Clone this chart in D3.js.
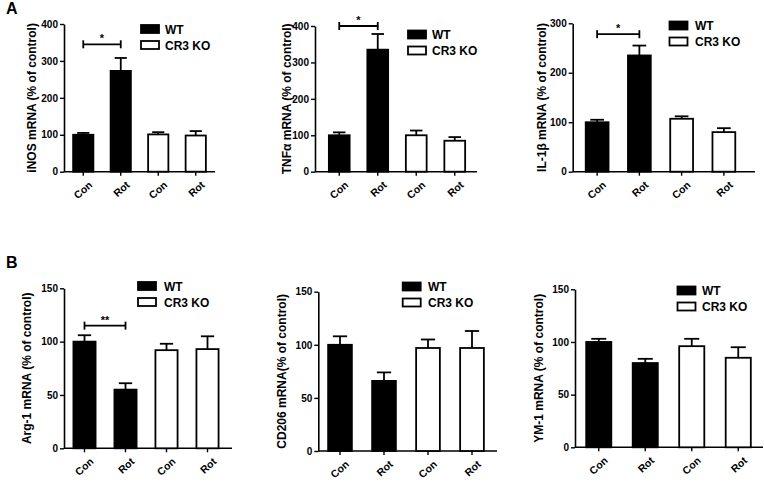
<!DOCTYPE html>
<html><head><meta charset="utf-8">
<script src="https://cdn.jsdelivr.net/npm/d3@7"></script>
<style>
body{margin:0;background:#fff;}
svg{display:block;font-family:"Liberation Sans",Arial,sans-serif;font-weight:bold;}
</style></head>
<body><svg id="c" width="764" height="484"></svg>
<script>
// ---- data ----
const categories = ["Con","Rot","Con","Rot"];
const groups = ["WT","WT","CR3 KO","CR3 KO"];
const legendLabels = ["WT","CR3 KO"];

const inosMean = [100, 273, 101, 98];
const inosErr  = [5, 35, 6, 12];
const tnfMean  = [100, 335, 100, 85];
const tnfErr   = [8, 43, 13, 10];
const il1bMean = [100, 235, 107, 80];
const il1bErr  = [5, 20, 5, 8];
const arg1Mean = [100, 55, 92, 93];
const arg1Err  = [6, 6, 6, 12];
const cd206Mean= [100, 66, 97, 97];
const cd206Err = [8, 8, 8, 16];
const ym1Mean  = [100, 80, 96, 85];
const ym1Err   = [3, 4, 7, 10];

const ticks400 = [0,100,200,300,400];
const ticks300 = [0,100,200,300];
const ticks150 = [0,50,100,150];

const yLabels = ["iNOS mRNA (% of control)","TNF\u03b1 mRNA (% of control)","IL-1\u03b2 mRNA (% of control)",
                 "Arg-1 mRNA (% of control)","CD206 mRNA(% of control)","YM-1 mRNA (% of control)"];
// significance brackets: [from index, to index, value, label]
const sigA1 = [0,1,345,"*"];
const sigA2 = [0,1,400,"*"];
const sigA3 = [0,1,278,"*"];
const sigB1 = [0,1,115,"**"];

// ---- layout (positions only) ----
const panels = [
 {mean:inosMean, err:inosErr, ticks:ticks400, label:yLabels[0], sig:sigA1,
  ax:64, top:24, bot:171.7, band:[64.5,214.5], axEnd:215, labX:32, leg:[140,24,165]},
 {mean:tnfMean, err:tnfErr, ticks:ticks400, label:yLabels[1], sig:sigA2,
  ax:315, top:26, bot:171.7, band:[320,474], axEnd:477, labX:287, leg:[407,29.5,432]},
 {mean:il1bMean, err:il1bErr, ticks:ticks300, label:yLabels[2], sig:sigA3,
  ax:572.7, top:23.3, bot:171.7, band:[576,745], axEnd:755, labX:542, leg:[668.5,20.5,695]},
 {mean:arg1Mean, err:arg1Err, ticks:ticks150, label:yLabels[3], sig:sigB1,
  ax:64, top:288.3, bot:448.3, band:[64,228], axEnd:232, labX:27, leg:[137,281,164]},
 {mean:cd206Mean, err:cd206Err, ticks:ticks150, label:yLabels[4], sig:null,
  ax:318.3, top:291.7, bot:451, band:[318,494], axEnd:497, labX:282, leg:[401.7,281.5,428]},
 {mean:ym1Mean, err:ym1Err, ticks:ticks150, label:yLabels[5], sig:null,
  ax:575, top:289.3, bot:447.3, band:[575.5,761.5], axEnd:763, labX:539, leg:[676.5,285.5,702]}
];

const svg = d3.select("#c");
const color = d3.scaleOrdinal().domain(legendLabels).range(["#000","#fff"]);

panels.forEach(p => {
  const g = svg.append("g");
  const maxV = p.ticks[p.ticks.length-1];
  const y = d3.scaleLinear().domain([0,maxV]).range([p.bot,p.top]);
  const x = d3.scaleBand().domain(d3.range(categories.length)).range(p.band).padding(0);
  const bw = x.bandwidth()*0.54;
  const cx = i => x(i) + x.bandwidth()/2;

  // y axis
  const ya = g.append("g").attr("transform",`translate(${p.ax},0)`)
    .call(d3.axisLeft(y).tickValues(p.ticks).tickSize(4).tickSizeOuter(0).tickPadding(2));
  ya.select(".domain").attr("stroke","#000").attr("stroke-width",1.6);
  ya.selectAll(".tick line").attr("stroke","#000").attr("stroke-width",1.4);
  ya.selectAll(".tick text").attr("font-size",10).attr("font-weight","bold")
    .attr("font-family","Liberation Sans, Arial, sans-serif").attr("fill","#000");

  // x axis (ticks only, labels drawn separately)
  const xa = g.append("g").attr("transform",`translate(0,${p.bot})`)
    .call(d3.axisBottom(x).tickSize(4).tickSizeOuter(0).tickFormat(""));
  xa.select(".domain").remove();
  xa.selectAll(".tick line").attr("stroke","#000").attr("stroke-width",1.4);
  g.append("line").attr("x1",p.ax).attr("x2",p.axEnd).attr("y1",p.bot).attr("y2",p.bot)
    .attr("stroke","#000").attr("stroke-width",1.6);

  // rotated category labels (end of text near the tick)
  categories.forEach((c,i)=>{
    const ex = cx(i)+5, ey = p.bot+9;
    svg.append("text").style("font-size","10.5px").style("text-anchor","end")
      .attr("x",ex).attr("y",ey+7)
      .attr("transform",`rotate(-42, ${ex}, ${ey})`)
      .text(c);
  });

  // error bars (upper only)
  const capW = bw*0.6;
  const eb = g.append("g").selectAll("g").data(p.mean).join("g");
  eb.append("line").attr("x1",(d,i)=>cx(i)).attr("x2",(d,i)=>cx(i))
    .attr("y1",d=>y(d)).attr("y2",(d,i)=>y(d+p.err[i])).attr("stroke","#000").attr("stroke-width",1.8);
  eb.append("line").attr("x1",(d,i)=>cx(i)-capW/2).attr("x2",(d,i)=>cx(i)+capW/2)
    .attr("y1",(d,i)=>y(d+p.err[i])).attr("y2",(d,i)=>y(d+p.err[i])).attr("stroke","#000").attr("stroke-width",1.8);

  // bars
  g.append("g").selectAll("rect").data(p.mean).join("rect")
    .attr("x",(d,i)=>cx(i)-bw/2).attr("width",bw)
    .attr("y",d=>y(d)).attr("height",d=>p.bot-y(d))
    .attr("fill",(d,i)=>color(groups[i])).attr("stroke","#000").attr("stroke-width",1.8);

  // significance bracket
  if (p.sig) {
    const [a,b,v,lab] = p.sig;
    const yy = y(v);
    g.append("line").attr("x1",cx(a)).attr("x2",cx(b)).attr("y1",yy).attr("y2",yy)
      .attr("stroke","#000").attr("stroke-width",1.8);
    [a,b].forEach(i=>g.append("line").attr("x1",cx(i)).attr("x2",cx(i)).attr("y1",yy-4).attr("y2",yy+4)
      .attr("stroke","#000").attr("stroke-width",1.8));
    g.append("text").attr("x",(cx(a)+cx(b))/2).attr("y",yy-2).attr("text-anchor","middle")
      .attr("font-size",11).text(lab);
  }

  // y label
  g.append("text").attr("transform",`translate(${p.labX+4},${(p.top+p.bot)/2}) rotate(-90)`)
    .attr("text-anchor","middle").style("font-size","12px").text(p.label);

  // legend
  const [lx,ly,tx] = p.leg;
  legendLabels.forEach((l,k)=>{
    const yy = ly + k*16;
    g.append("rect").attr("x",lx+1).attr("y",yy+1).attr("width",18).attr("height",8)
      .attr("fill",color(l)).attr("stroke","#000").attr("stroke-width",1.8);
    g.append("text").attr("x",tx).attr("y",yy+9.5).attr("font-size",12).text(l);
  });
});

svg.append("text").attr("x",6).attr("y",14).attr("font-size",16).text("A");
svg.append("text").attr("x",6).attr("y",268).attr("font-size",16).text("B");
</script></body></html>
